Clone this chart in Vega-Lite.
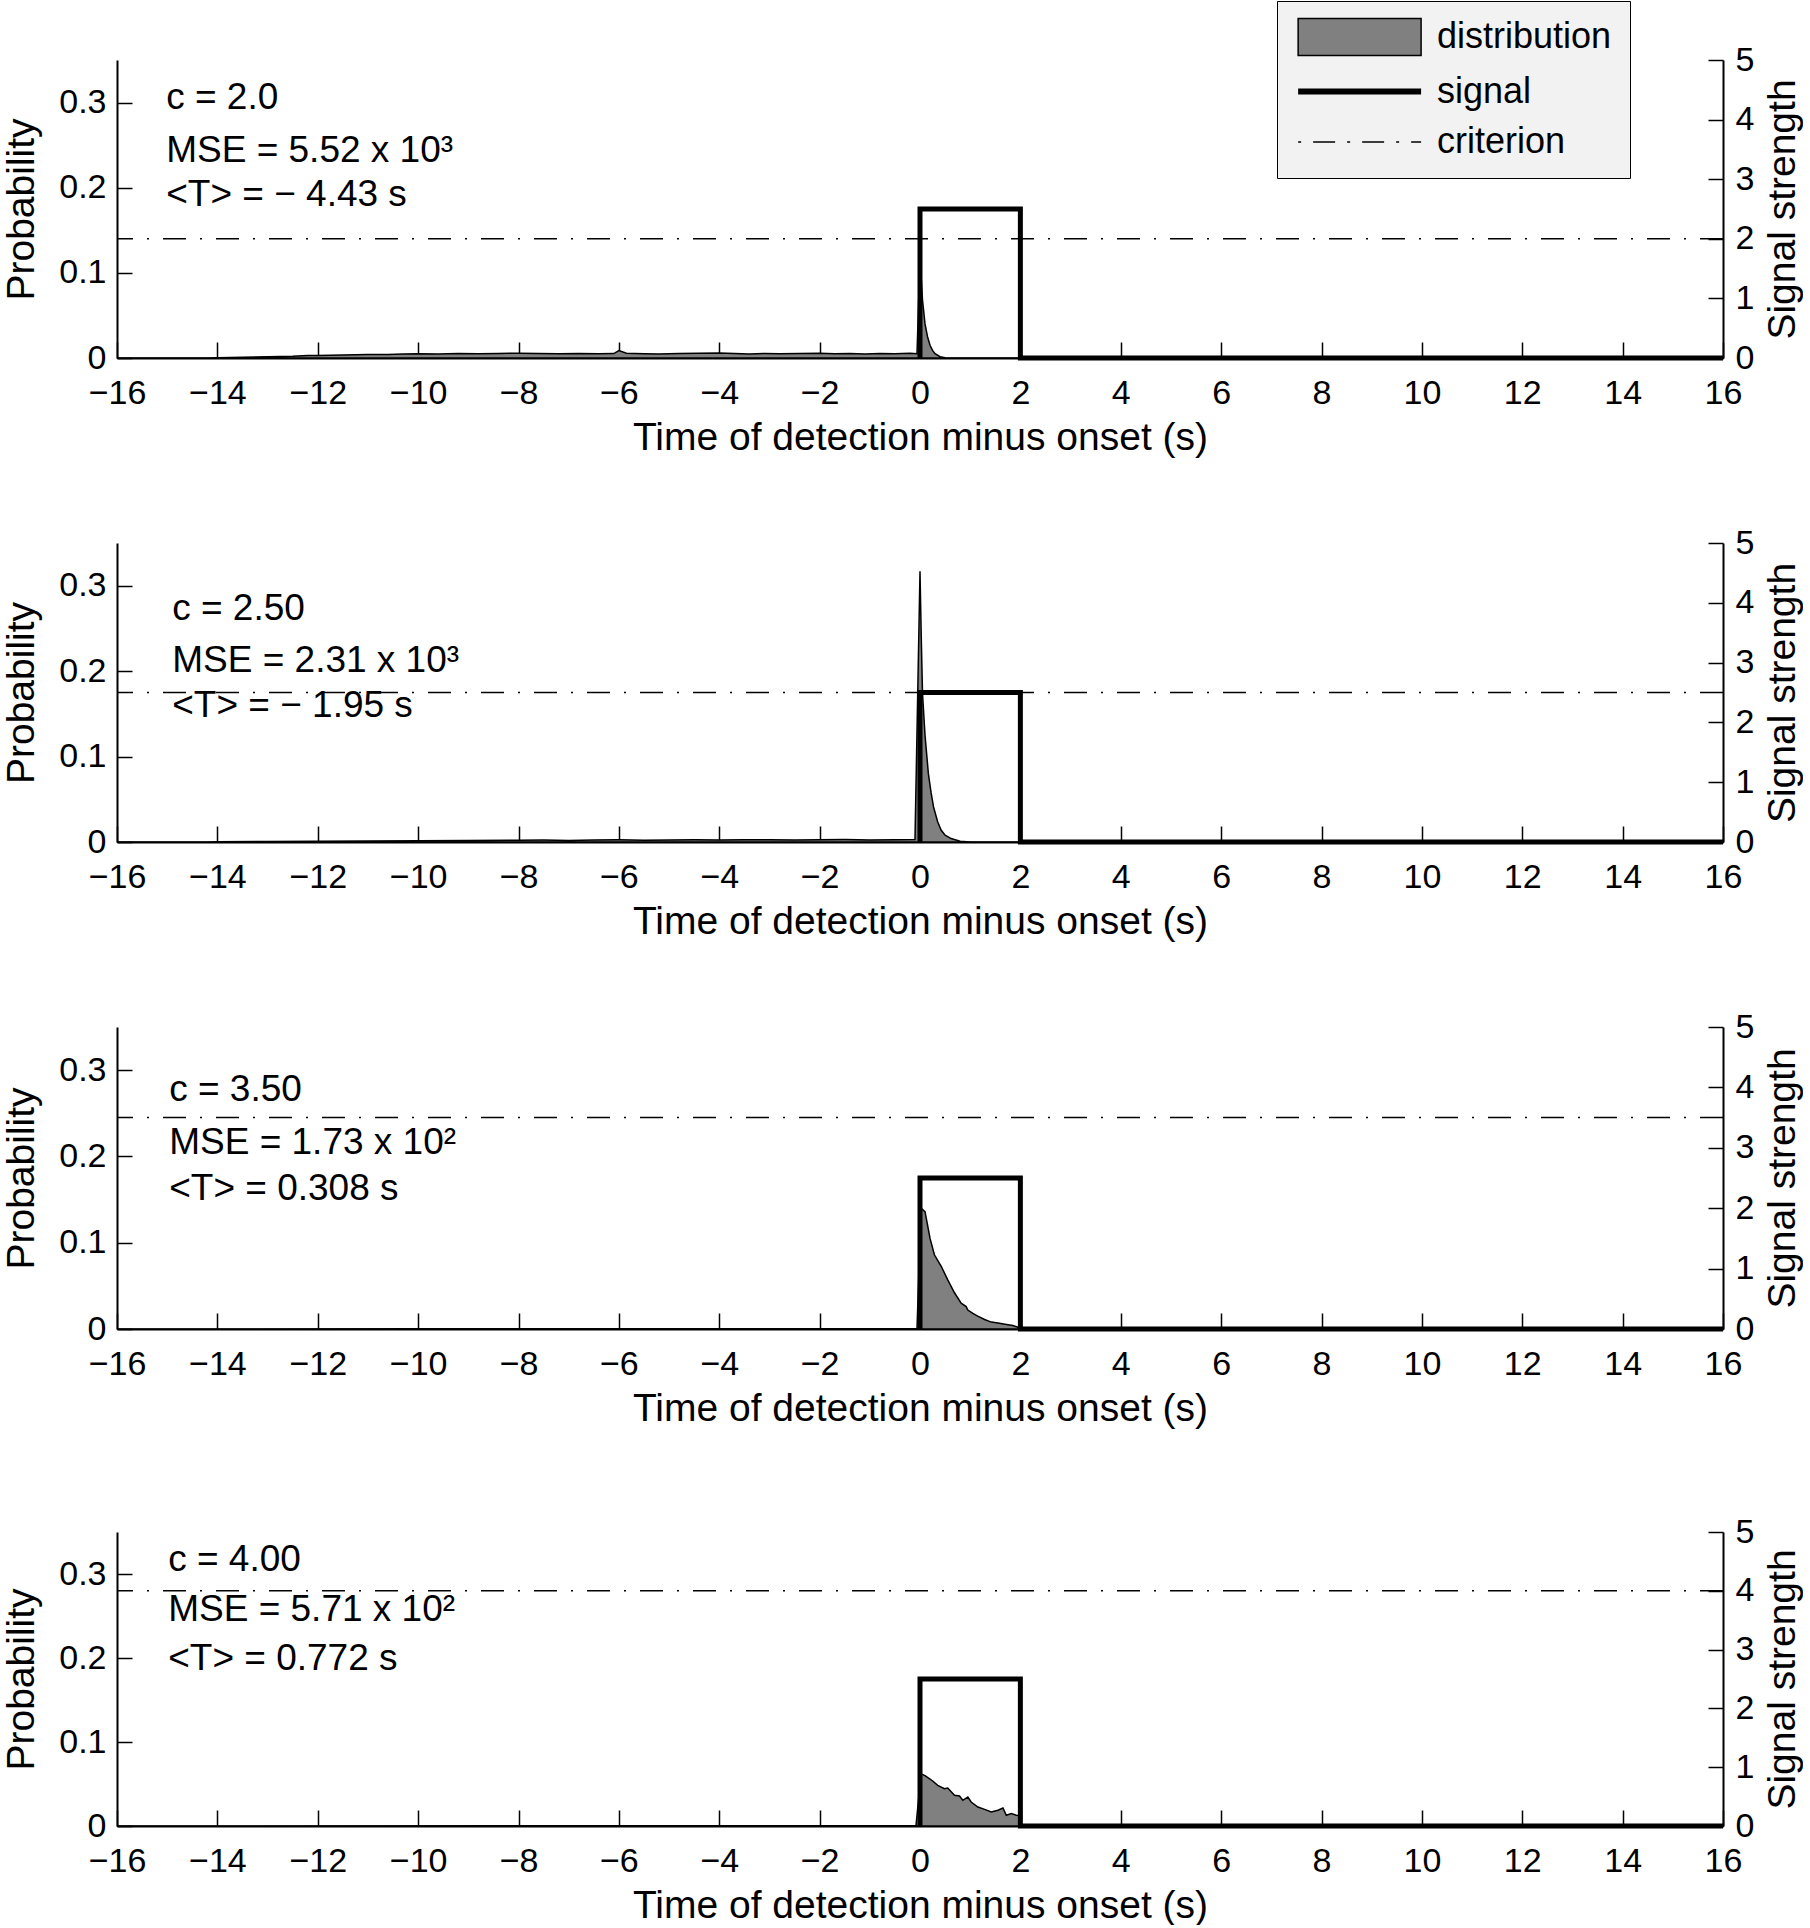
{
  "$schema": "https://vega.github.io/schema/vega-lite/v6.json",
  "padding": {"left": 2, "top": 0, "right": 0, "bottom": 0},
  "background": "white",
  "datasets": {
    "dist": [
      {"panel":1,"t":-16,"p":0},{"panel":1,"t":-14.2,"p":0},{"panel":1,"t":-14,"p":0.0003},{"panel":1,"t":-13.5,"p":0.0008},{"panel":1,"t":-13,"p":0.0015},{"panel":1,"t":-12.5,"p":0.002},{"panel":1,"t":-12.2,"p":0.0028},{"panel":1,"t":-12,"p":0.003},{"panel":1,"t":-11.5,"p":0.0035},{"panel":1,"t":-11,"p":0.004},{"panel":1,"t":-10.6,"p":0.0042},{"panel":1,"t":-10.3,"p":0.0048},{"panel":1,"t":-10,"p":0.005},{"panel":1,"t":-9.6,"p":0.0046},{"panel":1,"t":-9.2,"p":0.0053},{"panel":1,"t":-8.8,"p":0.0049},{"panel":1,"t":-8.4,"p":0.0054},{"panel":1,"t":-8,"p":0.0056},{"panel":1,"t":-7.6,"p":0.0052},{"panel":1,"t":-7.2,"p":0.0049},{"panel":1,"t":-6.8,"p":0.0054},{"panel":1,"t":-6.4,"p":0.005},{"panel":1,"t":-6.1,"p":0.0052},{"panel":1,"t":-6,"p":0.0088},{"panel":1,"t":-5.85,"p":0.0056},{"panel":1,"t":-5.5,"p":0.005},{"panel":1,"t":-5.2,"p":0.0048},{"panel":1,"t":-4.8,"p":0.0053},{"panel":1,"t":-4.4,"p":0.0055},{"panel":1,"t":-4,"p":0.0058},{"panel":1,"t":-3.7,"p":0.0052},{"panel":1,"t":-3.4,"p":0.0046},{"panel":1,"t":-3.1,"p":0.0053},{"panel":1,"t":-2.8,"p":0.0049},{"panel":1,"t":-2.4,"p":0.0054},{"panel":1,"t":-2,"p":0.0056},{"panel":1,"t":-1.7,"p":0.0049},{"panel":1,"t":-1.4,"p":0.0053},{"panel":1,"t":-1.1,"p":0.0048},{"panel":1,"t":-0.8,"p":0.0054},{"panel":1,"t":-0.5,"p":0.0051},{"panel":1,"t":-0.2,"p":0.0055},{"panel":1,"t":-0.06,"p":0.005},{"panel":1,"t":0,"p":0.118},{"panel":1,"t":0.05,"p":0.068},{"panel":1,"t":0.1,"p":0.04},{"panel":1,"t":0.15,"p":0.025},{"panel":1,"t":0.2,"p":0.015},{"panel":1,"t":0.25,"p":0.009},{"panel":1,"t":0.3,"p":0.005},{"panel":1,"t":0.4,"p":0.0015},{"panel":1,"t":0.5,"p":0.0003},{"panel":1,"t":0.6,"p":0},{"panel":1,"t":16,"p":0},
      {"panel":2,"t":-16,"p":0},{"panel":2,"t":-14.2,"p":0},{"panel":2,"t":-14,"p":0.0002},{"panel":2,"t":-13,"p":0.0006},{"panel":2,"t":-12,"p":0.001},{"panel":2,"t":-11,"p":0.0013},{"panel":2,"t":-10,"p":0.0016},{"panel":2,"t":-9,"p":0.0018},{"panel":2,"t":-8,"p":0.002},{"panel":2,"t":-7.5,"p":0.0022},{"panel":2,"t":-7,"p":0.0019},{"panel":2,"t":-6.5,"p":0.0023},{"panel":2,"t":-6,"p":0.0025},{"panel":2,"t":-5.5,"p":0.0021},{"panel":2,"t":-5,"p":0.0024},{"panel":2,"t":-4.5,"p":0.0026},{"panel":2,"t":-4,"p":0.0022},{"panel":2,"t":-3.5,"p":0.0025},{"panel":2,"t":-3,"p":0.0027},{"panel":2,"t":-2.5,"p":0.0023},{"panel":2,"t":-2,"p":0.0026},{"panel":2,"t":-1.5,"p":0.0028},{"panel":2,"t":-1,"p":0.0024},{"panel":2,"t":-0.5,"p":0.0027},{"panel":2,"t":-0.1,"p":0.003},{"panel":2,"t":0,"p":0.317},{"panel":2,"t":0.025,"p":0.24},{"panel":2,"t":0.05,"p":0.174},{"panel":2,"t":0.1,"p":0.125},{"panel":2,"t":0.167,"p":0.08},{"panel":2,"t":0.22,"p":0.058},{"panel":2,"t":0.27,"p":0.041},{"panel":2,"t":0.35,"p":0.024},{"panel":2,"t":0.42,"p":0.014},{"panel":2,"t":0.5,"p":0.008},{"panel":2,"t":0.62,"p":0.004},{"panel":2,"t":0.8,"p":0.001},{"panel":2,"t":1,"p":0},{"panel":2,"t":16,"p":0},
      {"panel":3,"t":-16,"p":0},{"panel":3,"t":-14,"p":0},{"panel":3,"t":-10,"p":0.0003},{"panel":3,"t":-6,"p":0.0004},{"panel":3,"t":-2,"p":0.0003},{"panel":3,"t":-0.06,"p":0.0003},{"panel":3,"t":0.02,"p":0.14},{"panel":3,"t":0.1,"p":0.136},{"panel":3,"t":0.2,"p":0.105},{"panel":3,"t":0.287,"p":0.086},{"panel":3,"t":0.42,"p":0.073},{"panel":3,"t":0.553,"p":0.057},{"panel":3,"t":0.687,"p":0.042},{"panel":3,"t":0.82,"p":0.03},{"panel":3,"t":0.92,"p":0.026},{"panel":3,"t":0.953,"p":0.022},{"panel":3,"t":1.053,"p":0.018},{"panel":3,"t":1.15,"p":0.015},{"panel":3,"t":1.287,"p":0.011},{"panel":3,"t":1.42,"p":0.008},{"panel":3,"t":1.553,"p":0.007},{"panel":3,"t":1.753,"p":0.005},{"panel":3,"t":1.85,"p":0.004},{"panel":3,"t":1.953,"p":0.002},{"panel":3,"t":2.05,"p":0},{"panel":3,"t":16,"p":0},
      {"panel":4,"t":-16,"p":0},{"panel":4,"t":-14,"p":0},{"panel":4,"t":-8,"p":0.0002},{"panel":4,"t":-2,"p":0.0002},{"panel":4,"t":-0.08,"p":0.0002},{"panel":4,"t":0.02,"p":0.062},{"panel":4,"t":0.1,"p":0.06},{"panel":4,"t":0.253,"p":0.0536},{"panel":4,"t":0.353,"p":0.0484},{"panel":4,"t":0.487,"p":0.0444},{"panel":4,"t":0.553,"p":0.0452},{"panel":4,"t":0.687,"p":0.0365},{"panel":4,"t":0.787,"p":0.0357},{"panel":4,"t":0.853,"p":0.0306},{"panel":4,"t":0.953,"p":0.0345},{"panel":4,"t":1.02,"p":0.0286},{"panel":4,"t":1.153,"p":0.0226},{"panel":4,"t":1.287,"p":0.0198},{"panel":4,"t":1.42,"p":0.0167},{"panel":4,"t":1.553,"p":0.0187},{"panel":4,"t":1.653,"p":0.0214},{"panel":4,"t":1.72,"p":0.0127},{"panel":4,"t":1.82,"p":0.0147},{"panel":4,"t":1.92,"p":0.0127},{"panel":4,"t":1.99,"p":0.0125},{"panel":4,"t":2.03,"p":0},{"panel":4,"t":16,"p":0}
    ],
    "signal": [
      {"i":0,"t":0,"s":0},{"i":1,"t":0,"s":2.5},{"i":2,"t":2,"s":2.5},{"i":3,"t":2,"s":0},{"i":4,"t":16,"s":0}
    ],
    "crit": [
      {"panel":1,"c":2.0},{"panel":2,"c":2.5},{"panel":3,"c":3.5},{"panel":4,"c":4.0}
    ],
    "notes": [
      {"panel":1,"x":-15.02,"y":0.2925,"label":"c = 2.0"},
      {"panel":1,"x":-15.02,"y":0.230,"label":"MSE = 5.52 x 10³"},
      {"panel":1,"x":-15.02,"y":0.1785,"label":"<T> = − 4.43 s"},
      {"panel":2,"x":-14.9,"y":0.26,"label":"c = 2.50"},
      {"panel":2,"x":-14.9,"y":0.199,"label":"MSE = 2.31 x 10³"},
      {"panel":2,"x":-14.9,"y":0.1463,"label":"<T> = − 1.95 s"},
      {"panel":3,"x":-14.96,"y":0.264,"label":"c = 3.50"},
      {"panel":3,"x":-14.96,"y":0.203,"label":"MSE = 1.73 x 10²"},
      {"panel":3,"x":-14.96,"y":0.1495,"label":" <T> = 0.308 s"},
      {"panel":4,"x":-14.98,"y":0.3036,"label":"c = 4.00"},
      {"panel":4,"x":-14.98,"y":0.244,"label":"MSE = 5.71 x 10²"},
      {"panel":4,"x":-14.98,"y":0.1857,"label":"<T> = 0.772 s"}
    ]
  },
  "bounds": "full",
  "spacing": 87,
  "vconcat": [
    {
      "bounds": "flush",
      "spacing": 185,
      "vconcat": [
        {
          "width": 1606, "height": 298,
          "layer": [
            {"layer": [
              {"data": {"name": "dist"}, "transform": [{"filter": "datum.panel == 1"}],
               "mark": {"type": "area", "fill": "#808080", "stroke": "black", "strokeWidth": 1.5},
               "encoding": {
                 "x": {"field": "t", "type": "quantitative", "scale": {"domain": [-16, 16], "nice": false},
                       "axis": {"values": [-16,-14,-12,-10,-8,-6,-4,-2,0,2,4,6,8,10,12,14,16], "title": "Time of detection minus onset (s)", "labelFlush": false, "labelPadding": 34, "titlePadding": 8, "tickSize": -16}},
                 "y": {"field": "p", "type": "quantitative", "scale": {"domain": [0, 0.35], "nice": false},
                       "axis": {"orient": "left", "values": [0, 0.1, 0.2, 0.3], "format": "~g", "title": "Probability", "labelPadding": 26, "titlePadding": 17, "tickSize": -15}}
               }},
              {"data": {"name": "notes"}, "transform": [{"filter": "datum.panel == 1"}],
               "mark": {"type": "text", "align": "left", "baseline": "alphabetic", "fontSize": 37, "font": "Liberation Sans", "color": "black"},
               "encoding": {"x": {"field": "x", "type": "quantitative"}, "y": {"field": "y", "type": "quantitative"}, "text": {"field": "label"}}},
              {"data": {"values": []},
               "mark": {"type": "point", "filled": true, "opacity": 1},
               "encoding": {
                 "shape": {"field": "series", "type": "nominal", "scale": {"domain": ["distribution", "signal", "criterion"], "range": ["M-1,-1.2H7V1.2H-1Z", "M-1,0H7", "M-1,0H7"]}, "legend": {"title": null, "labelExpr": "datum.label + '\u00a0\u00a0\u00a0'"}},
                 "fill": {"field": "series", "type": "nominal", "scale": {"type": "ordinal", "domain": ["distribution", "signal", "criterion"], "range": ["#808080", "transparent", "transparent"]}, "legend": {"title": null, "labelExpr": "datum.label + '\u00a0\u00a0\u00a0'"}},
                 "stroke": {"field": "series", "type": "nominal", "scale": {"type": "ordinal", "domain": ["distribution", "signal", "criterion"], "range": ["black", "black", "black"]}, "legend": {"title": null, "labelExpr": "datum.label + '\u00a0\u00a0\u00a0'"}},
                 "strokeWidth": {"field": "series", "type": "nominal", "scale": {"type": "ordinal", "domain": ["distribution", "signal", "criterion"], "range": [1.5, 6, 1.5]}, "legend": {"title": null, "labelExpr": "datum.label + '\u00a0\u00a0\u00a0'"}},
                 "strokeDash": {"field": "series", "type": "nominal", "scale": {"type": "ordinal", "domain": ["distribution", "signal", "criterion"], "range": [[1, 0], [1, 0], [3, 12, 22, 12]]}, "legend": {"title": null, "labelExpr": "datum.label + '\u00a0\u00a0\u00a0'"}}
               }}
            ]},
            {"layer": [
              {"data": {"name": "signal"},
               "mark": {"type": "line", "color": "black", "strokeWidth": 5},
               "encoding": {
                 "x": {"field": "t", "type": "quantitative"},
                 "y": {"field": "s", "type": "quantitative", "scale": {"domain": [0, 5], "nice": false},
                       "axis": {"orient": "right", "values": [0,1,2,3,4,5], "format": "d", "title": "Signal strength", "titleAngle": 270, "titleBaseline": "top", "labelPadding": 27, "titlePadding": 10, "tickSize": -15}},
                 "order": {"field": "i", "type": "quantitative"}
               }},
              {"data": {"name": "crit"}, "transform": [{"filter": "datum.panel == 1"}],
               "mark": {"type": "rule", "color": "black", "strokeWidth": 1.5, "strokeDash": [23, 14, 2, 14]},
               "encoding": {"y": {"field": "c", "type": "quantitative"}}}
            ]}
          ],
          "resolve": {"scale": {"y": "independent"}}
        },
        {
          "width": 1606, "height": 299,
          "layer": [
            {"layer": [
              {"data": {"name": "dist"}, "transform": [{"filter": "datum.panel == 2"}],
               "mark": {"type": "area", "fill": "#808080", "stroke": "black", "strokeWidth": 1.5},
               "encoding": {
                 "x": {"field": "t", "type": "quantitative", "scale": {"domain": [-16, 16], "nice": false},
                       "axis": {"values": [-16,-14,-12,-10,-8,-6,-4,-2,0,2,4,6,8,10,12,14,16], "title": "Time of detection minus onset (s)", "labelFlush": false, "labelPadding": 34, "titlePadding": 8, "tickSize": -16}},
                 "y": {"field": "p", "type": "quantitative", "scale": {"domain": [0, 0.35], "nice": false},
                       "axis": {"orient": "left", "values": [0, 0.1, 0.2, 0.3], "format": "~g", "title": "Probability", "labelPadding": 26, "titlePadding": 17, "tickSize": -15}}
               }},
              {"data": {"name": "notes"}, "transform": [{"filter": "datum.panel == 2"}],
               "mark": {"type": "text", "align": "left", "baseline": "alphabetic", "fontSize": 37, "font": "Liberation Sans", "color": "black"},
               "encoding": {"x": {"field": "x", "type": "quantitative"}, "y": {"field": "y", "type": "quantitative"}, "text": {"field": "label"}}}
            ]},
            {"layer": [
              {"data": {"name": "signal"},
               "mark": {"type": "line", "color": "black", "strokeWidth": 5},
               "encoding": {
                 "x": {"field": "t", "type": "quantitative"},
                 "y": {"field": "s", "type": "quantitative", "scale": {"domain": [0, 5], "nice": false},
                       "axis": {"orient": "right", "values": [0,1,2,3,4,5], "format": "d", "title": "Signal strength", "titleAngle": 270, "titleBaseline": "top", "labelPadding": 27, "titlePadding": 10, "tickSize": -15}},
                 "order": {"field": "i", "type": "quantitative"}
               }},
              {"data": {"name": "crit"}, "transform": [{"filter": "datum.panel == 2"}],
               "mark": {"type": "rule", "color": "black", "strokeWidth": 1.5, "strokeDash": [23, 14, 2, 14]},
               "encoding": {"y": {"field": "c", "type": "quantitative"}}}
            ]}
          ],
          "resolve": {"scale": {"y": "independent"}}
        },
        {
          "width": 1606, "height": 302,
          "layer": [
            {"layer": [
              {"data": {"name": "dist"}, "transform": [{"filter": "datum.panel == 3"}],
               "mark": {"type": "area", "fill": "#808080", "stroke": "black", "strokeWidth": 1.5},
               "encoding": {
                 "x": {"field": "t", "type": "quantitative", "scale": {"domain": [-16, 16], "nice": false},
                       "axis": {"values": [-16,-14,-12,-10,-8,-6,-4,-2,0,2,4,6,8,10,12,14,16], "title": "Time of detection minus onset (s)", "labelFlush": false, "labelPadding": 34, "titlePadding": 8, "tickSize": -16}},
                 "y": {"field": "p", "type": "quantitative", "scale": {"domain": [0, 0.35], "nice": false},
                       "axis": {"orient": "left", "values": [0, 0.1, 0.2, 0.3], "format": "~g", "title": "Probability", "labelPadding": 26, "titlePadding": 17, "tickSize": -15}}
               }},
              {"data": {"name": "notes"}, "transform": [{"filter": "datum.panel == 3"}],
               "mark": {"type": "text", "align": "left", "baseline": "alphabetic", "fontSize": 37, "font": "Liberation Sans", "color": "black"},
               "encoding": {"x": {"field": "x", "type": "quantitative"}, "y": {"field": "y", "type": "quantitative"}, "text": {"field": "label"}}}
            ]},
            {"layer": [
              {"data": {"name": "signal"},
               "mark": {"type": "line", "color": "black", "strokeWidth": 5},
               "encoding": {
                 "x": {"field": "t", "type": "quantitative"},
                 "y": {"field": "s", "type": "quantitative", "scale": {"domain": [0, 5], "nice": false},
                       "axis": {"orient": "right", "values": [0,1,2,3,4,5], "format": "d", "title": "Signal strength", "titleAngle": 270, "titleBaseline": "top", "labelPadding": 27, "titlePadding": 10, "tickSize": -15}},
                 "order": {"field": "i", "type": "quantitative"}
               }},
              {"data": {"name": "crit"}, "transform": [{"filter": "datum.panel == 3"}],
               "mark": {"type": "rule", "color": "black", "strokeWidth": 1.5, "strokeDash": [23, 14, 2, 14]},
               "encoding": {"y": {"field": "c", "type": "quantitative"}}}
            ]}
          ],
          "resolve": {"scale": {"y": "independent"}}
        }
      ]
    },
    {
      "width": 1606, "height": 294,
      "layer": [
        {"layer": [
          {"data": {"name": "dist"}, "transform": [{"filter": "datum.panel == 4"}],
           "mark": {"type": "area", "fill": "#808080", "stroke": "black", "strokeWidth": 1.5},
           "encoding": {
             "x": {"field": "t", "type": "quantitative", "scale": {"domain": [-16, 16], "nice": false},
                   "axis": {"values": [-16,-14,-12,-10,-8,-6,-4,-2,0,2,4,6,8,10,12,14,16], "title": "Time of detection minus onset (s)", "labelFlush": false, "labelPadding": 34, "titlePadding": 8, "tickSize": -16}},
             "y": {"field": "p", "type": "quantitative", "scale": {"domain": [0, 0.35], "nice": false},
                   "axis": {"orient": "left", "values": [0, 0.1, 0.2, 0.3], "format": "~g", "title": "Probability", "labelPadding": 26, "titlePadding": 17, "tickSize": -15}}
           }},
          {"data": {"name": "notes"}, "transform": [{"filter": "datum.panel == 4"}],
           "mark": {"type": "text", "align": "left", "baseline": "alphabetic", "fontSize": 37, "font": "Liberation Sans", "color": "black"},
           "encoding": {"x": {"field": "x", "type": "quantitative"}, "y": {"field": "y", "type": "quantitative"}, "text": {"field": "label"}}}
        ]},
        {"layer": [
          {"data": {"name": "signal"},
           "mark": {"type": "line", "color": "black", "strokeWidth": 5},
           "encoding": {
             "x": {"field": "t", "type": "quantitative"},
             "y": {"field": "s", "type": "quantitative", "scale": {"domain": [0, 5], "nice": false},
                   "axis": {"orient": "right", "values": [0,1,2,3,4,5], "format": "d", "title": "Signal strength", "titleAngle": 270, "titleBaseline": "top", "labelPadding": 27, "titlePadding": 10, "tickSize": -15}},
             "order": {"field": "i", "type": "quantitative"}
           }},
          {"data": {"name": "crit"}, "transform": [{"filter": "datum.panel == 4"}],
           "mark": {"type": "rule", "color": "black", "strokeWidth": 1.5, "strokeDash": [23, 14, 2, 14]},
           "encoding": {"y": {"field": "c", "type": "quantitative"}}}
        ]}
      ],
      "resolve": {"scale": {"y": "independent"}}
    }
  ],
  "config": {
    "font": "Liberation Sans",
    "view": {"stroke": null},
    "axis": {
      "grid": false,
      "domainColor": "black", "domainWidth": 2,
      "tickColor": "black", "tickWidth": 1.5,
      "labelFont": "Liberation Sans", "labelFontSize": 34, "labelColor": "black",
      "titleFont": "Liberation Sans", "titleFontSize": 39, "titleFontWeight": "normal", "titleColor": "black"
    },
    "legend": {
      "orient": "none", "legendX": 1160, "legendY": -59, "direction": "vertical",
      "padding": 18, "fillColor": "#f2f2f2", "strokeColor": "black", "cornerRadius": 0,
      "labelFont": "Liberation Sans", "labelFontSize": 36, "labelColor": "black", "labelLimit": 400,
      "symbolSize": 945, "labelOffset": 105, "rowPadding": 14
    }
  }
}
